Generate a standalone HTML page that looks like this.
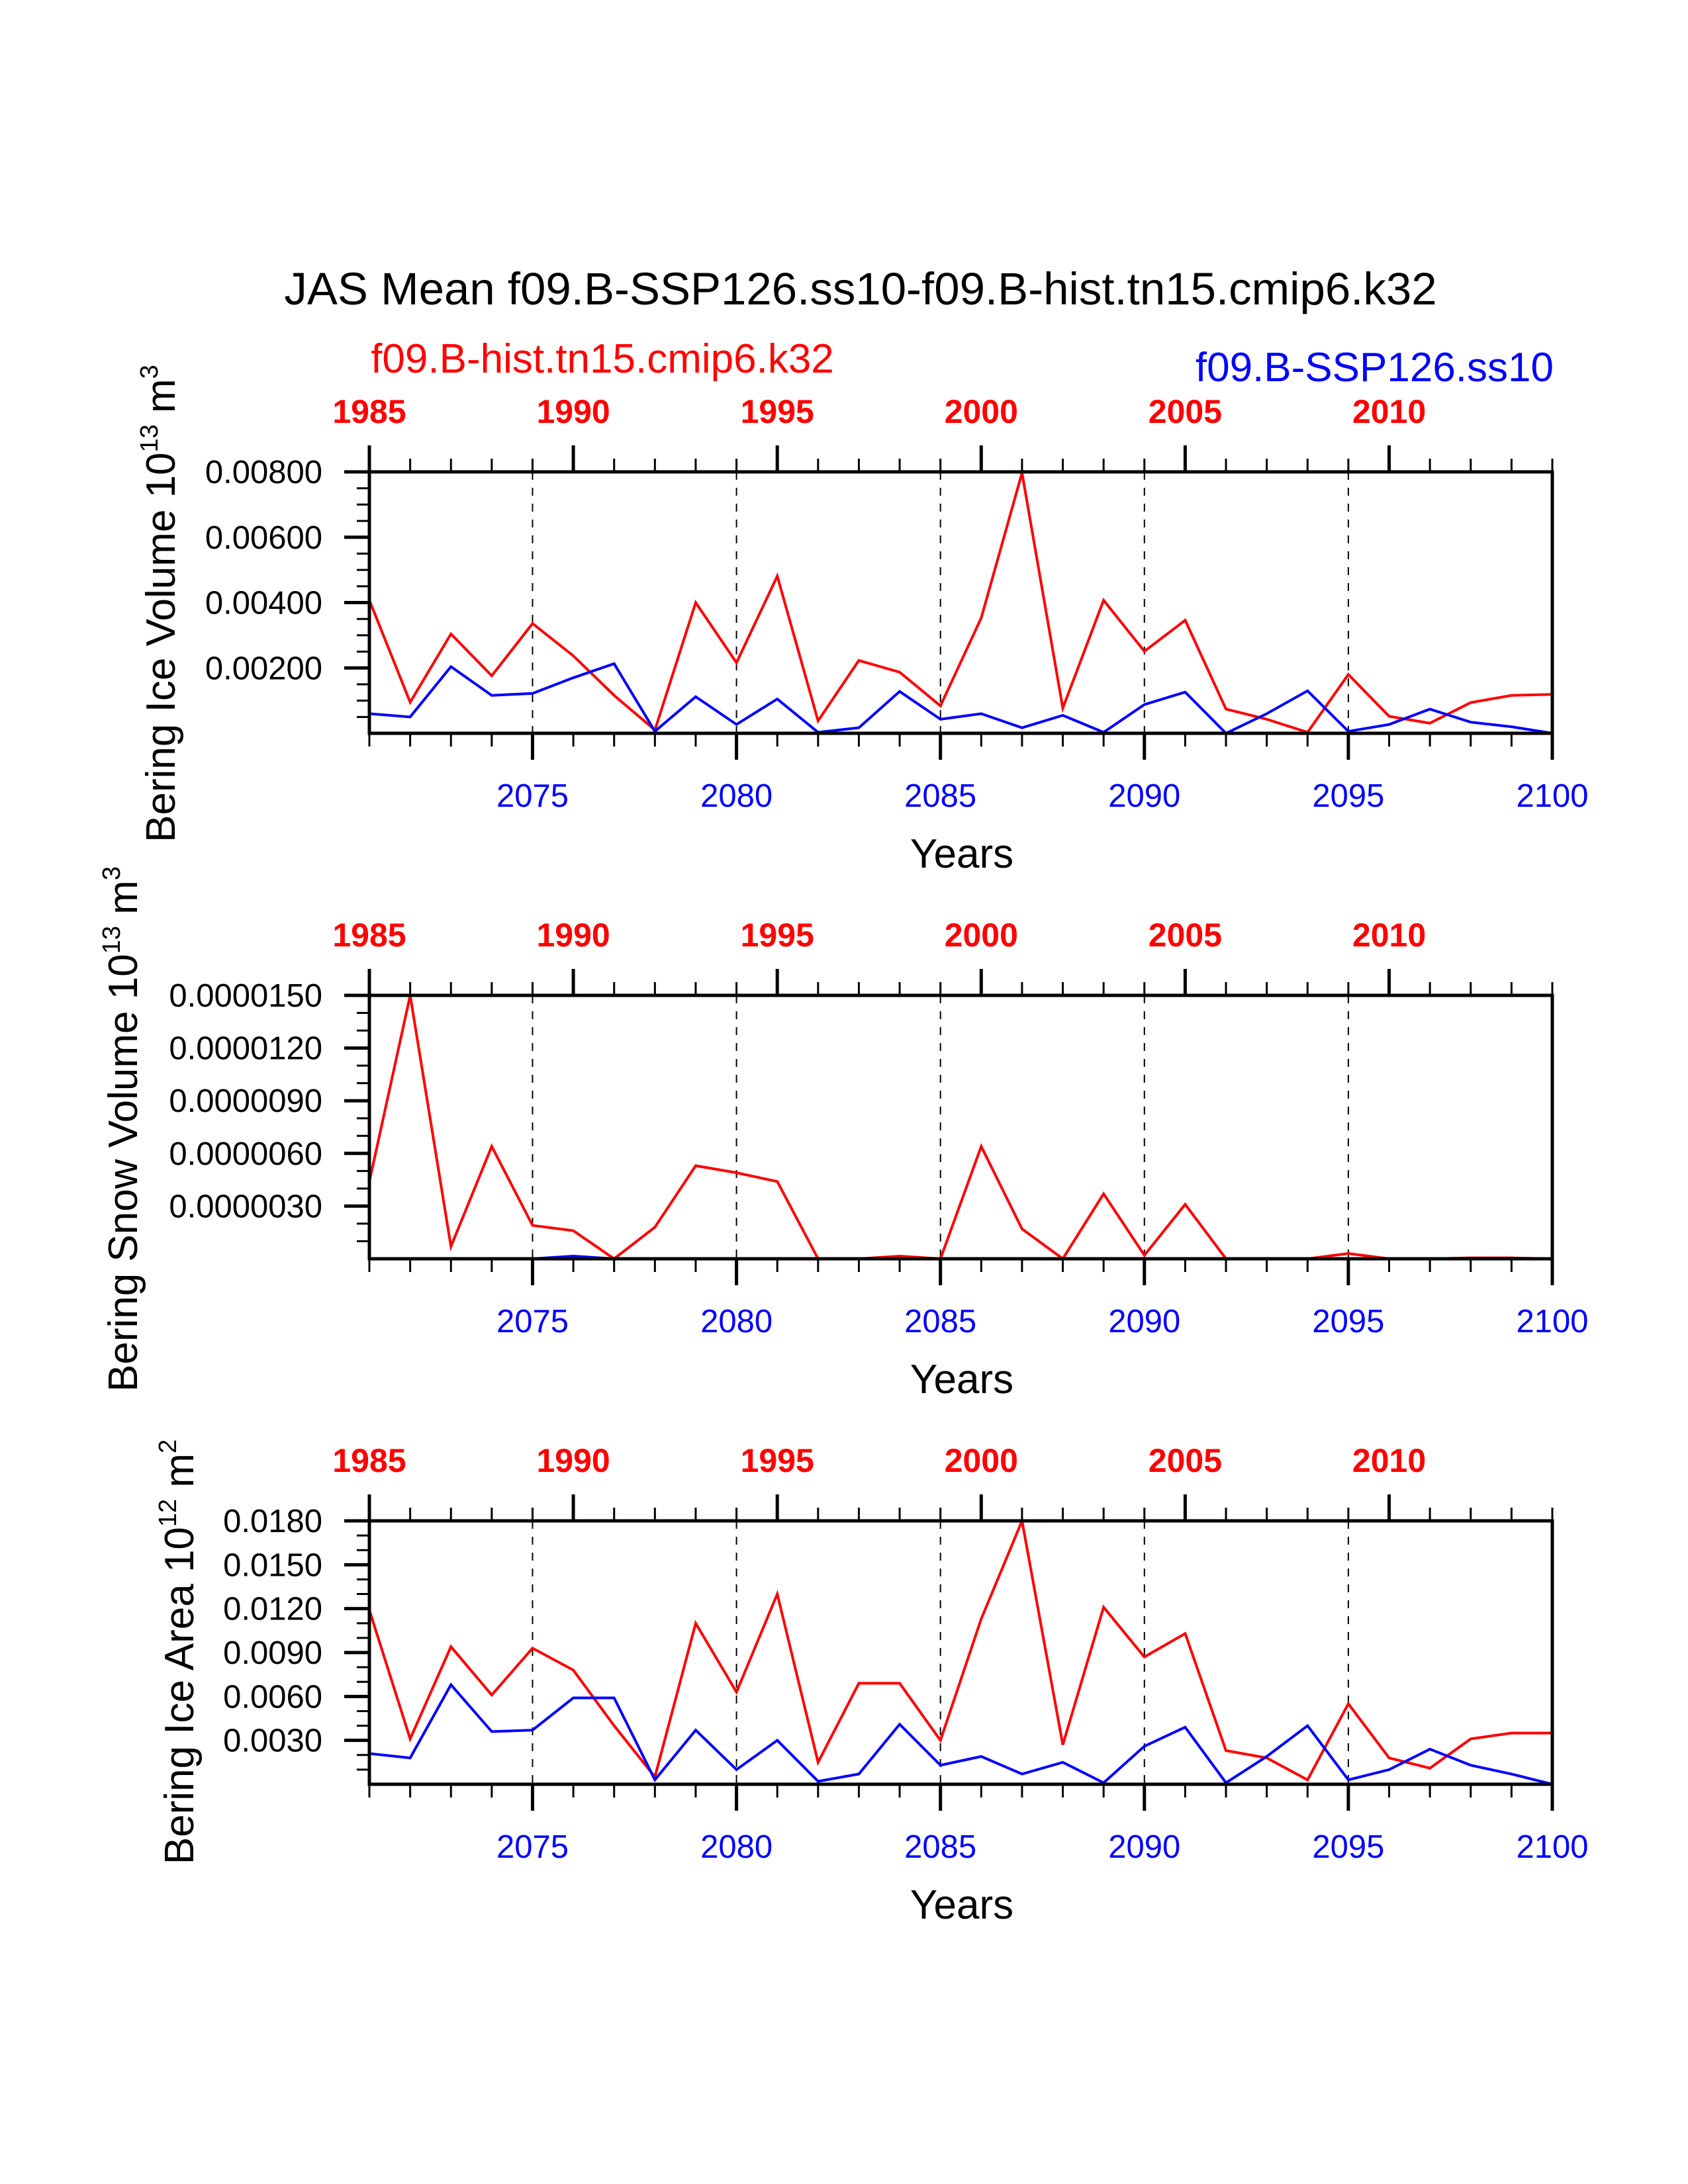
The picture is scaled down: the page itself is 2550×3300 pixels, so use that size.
<!DOCTYPE html>
<html><head><meta charset="utf-8"><style>
html,body{margin:0;padding:0;background:#fff;}
svg{display:block;font-family:"Liberation Sans",sans-serif;}
</style></head><body>
<svg id="chart" width="2550" height="3300" viewBox="0 0 2550 3300" xmlns="http://www.w3.org/2000/svg">
<text x="1300" y="460" font-size="69" text-anchor="middle" fill="#000">JAS Mean f09.B-SSP126.ss10-f09.B-hist.tn15.cmip6.k32</text>
<text x="910" y="563" font-size="62" text-anchor="middle" fill="#ff0000">f09.B-hist.tn15.cmip6.k32</text>
<text x="2347" y="576" font-size="62" text-anchor="end" fill="#0000ff">f09.B-SSP126.ss10</text>
</svg>
<script>
const years = [2071,2072,2073,2074,2075,2076,2077,2078,2079,2080,2081,2082,2083,2084,2085,2086,2087,2088,2089,2090,2091,2092,2093,2094,2095,2096,2097,2098,2099,2100];
const bottomTicks = [2075,2080,2085,2090,2095,2100];
const topTickLabels = ["1985","1990","1995","2000","2005","2010"];
const iceVolHist = [4.07,0.95,3.04,1.76,3.36,2.37,1.16,0.10,4.00,2.16,4.81,0.38,2.23,1.87,0.84,3.53,7.97,0.77,4.07,2.51,3.46,0.74,0.43,0.03,1.80,0.52,0.31,0.94,1.16,1.19];
const iceVolSsp = [0.60,0.50,2.04,1.16,1.22,1.70,2.13,0.06,1.12,0.27,1.05,0.03,0.17,1.28,0.43,0.60,0.17,0.55,0.03,0.88,1.26,0.00,0.60,1.30,0.06,0.27,0.74,0.34,0.20,0.00];
const snowVolHist = [4.4,15.0,0.7,6.4,1.9,1.6,0.0,1.8,5.3,4.9,4.4,0.0,0.0,0.15,0.0,6.4,1.7,0.0,3.7,0.2,3.1,0.0,0.0,0.0,0.3,0.0,0.0,0.05,0.05,0.0];
const snowVolSsp = [0,0,0,0,0,0.15,0,0,0,0,0,0,0,0,0,0,0,0,0,0,0,0,0,0,0,0,0,0,0,0];
const iceAreaHist = [11.9,3.1,9.4,6.1,9.3,7.8,4.0,0.5,11.0,6.3,13.0,1.5,6.9,6.9,3.0,11.3,18.0,2.7,12.1,8.7,10.3,2.3,1.8,0.3,5.5,1.8,1.1,3.1,3.5,3.5];
const iceAreaSsp = [2.1,1.8,6.8,3.6,3.7,5.9,5.9,0.3,3.7,1.0,3.0,0.2,0.7,4.1,1.3,1.9,0.7,1.5,0.1,2.6,3.9,0.1,1.9,4.0,0.3,1.0,2.4,1.3,0.7,0.0];
const iceVolTicks = ["0.00200","0.00400","0.00600","0.00800"];
const snowVolTicks = ["0.0000030","0.0000060","0.0000090","0.0000120","0.0000150"];
const iceAreaTicks = ["0.0030","0.0060","0.0090","0.0120","0.0150","0.0180"];

const NS="http://www.w3.org/2000/svg";
const svg=document.getElementById('chart');
const L=558,R=2345;
function mk(tag,attrs,parent){const e=document.createElementNS(NS,tag);for(const k in attrs)e.setAttribute(k,attrs[k]);(parent||svg).appendChild(e);return e;}
const xs=y=>L+(y-2071)*(R-L)/29;

function panel(name,top,bottom,ymax,step,minor,ticks,hist,ssp,label,exp,unit,unitExp,labX,labY){
  const g=mk('g',{});
  
  
  const ys=v=>bottom-v/ymax*(bottom-top);
  for(const y of [2075,2080,2085,2090,2095]){
    const l=mk('line',{x1:xs(y),x2:xs(y),y1:top,y2:bottom,stroke:'#000','stroke-width':2,'stroke-dasharray':'12,12'},g);
    
    
  }
  function series(vals,color,nm){
    const p=mk('polyline',{points:vals.map((v,i)=>xs(years[i])+','+ys(v)).join(' '),fill:'none',stroke:color,'stroke-width':4,'stroke-linejoin':'miter'},g);
    
    
  }
  series(hist,'#ff0000','series-hist');
  series(ssp,'#0000ff','series-ssp126');
  const fr=mk('rect',{x:L,y:top,width:R-L,height:bottom-top,fill:'none',stroke:'#000','stroke-width':5},g);
  
  
  years.forEach((y,i)=>{
    const maj=(y%5===0);
    mk('line',{x1:xs(y),x2:xs(y),y1:bottom,y2:bottom+(maj?40:20),stroke:'#000','stroke-width':maj?5:3},g);
    const tmaj=(i%5===0);
    mk('line',{x1:xs(y),x2:xs(y),y1:top,y2:top-(tmaj?40:20),stroke:'#000','stroke-width':tmaj?5:3},g);
  });
  bottomTicks.forEach(y=>{
    const t=mk('text',{x:xs(y),y:bottom+111,'font-size':49,'text-anchor':'middle',fill:'#0000ff'},g);
    t.textContent=y;
    
    
  });
  topTickLabels.forEach((s,i)=>{
    const t=mk('text',{x:xs(2071+5*i),y:top-74,'font-size':50,'font-weight':'bold','text-anchor':'middle',fill:'#ff0000'},g);
    t.textContent=s;
    
    
  });
  const xt=mk('text',{x:1453,y:bottom+203,'font-size':62,'text-anchor':'middle',fill:'#000'},g);
  xt.textContent='Years';
  
  
  for(let v=minor;v<=ymax+1e-9;v+=minor){
    const isMaj=Math.abs(v/step-Math.round(v/step))<1e-6;
    mk('line',{x1:L,x2:L-(isMaj?38:19),y1:ys(v),y2:ys(v),stroke:'#000','stroke-width':isMaj?5:3},g);
  }
  ticks.forEach((s,i)=>{
    const t=mk('text',{x:L-71,y:ys(step*(i+1))+17,'font-size':49,'text-anchor':'end',fill:'#000'},g);
    t.textContent=s;
    
    
  });
  const yt=mk('text',{x:0,y:0,'font-size':62,'text-anchor':'middle',fill:'#000',transform:`translate(${labX},${labY}) rotate(-90)`},g);
  
  
  yt.innerHTML=`${label} 10<tspan dy="-26" font-size="38">${exp}</tspan><tspan dy="26"> ${unit}</tspan><tspan dy="-26" font-size="38">${unitExp}</tspan>`;
}
panel('ice-volume-panel',713,1108,8,2,0.5,iceVolTicks,iceVolHist,iceVolSsp,'Bering Ice Volume','13','m','3',264,912);
panel('snow-volume-panel',1504,1902,15,3,1,snowVolTicks,snowVolHist,snowVolSsp,'Bering Snow Volume','13','m','3',207,1706);
panel('ice-area-panel',2298,2696,18,3,1,iceAreaTicks,iceAreaHist,iceAreaSsp,'Bering Ice Area','12','m','2',292,2496);
</script>
</body></html>
